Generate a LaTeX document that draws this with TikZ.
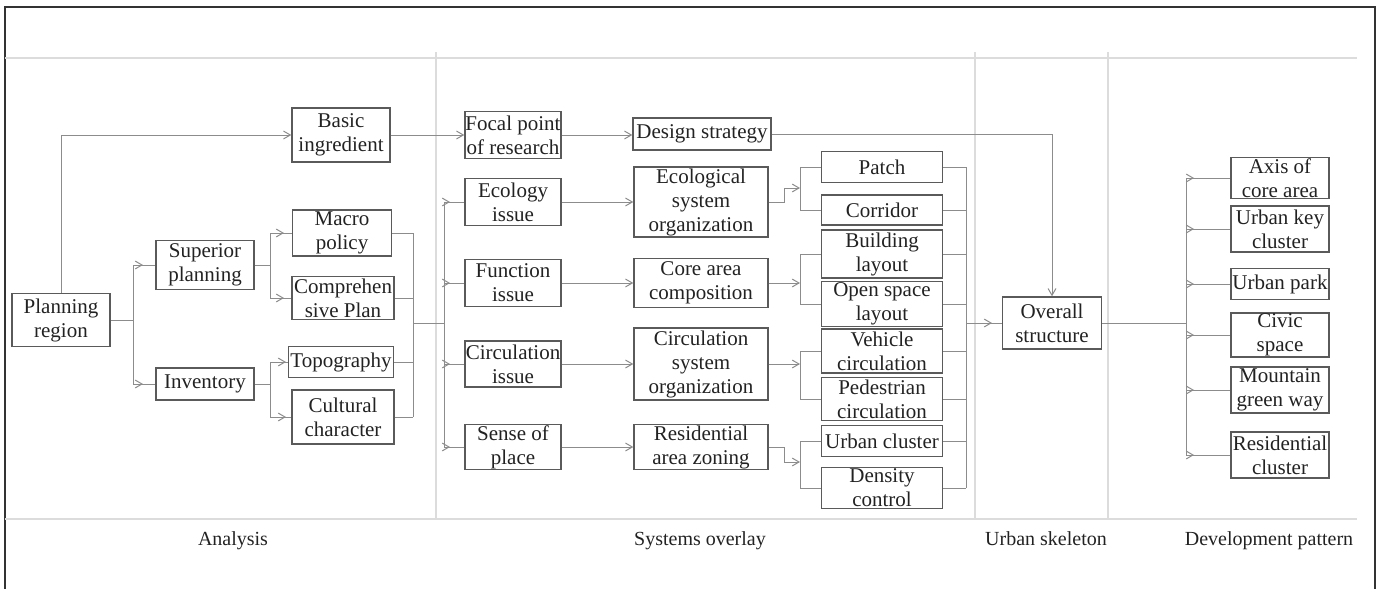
\documentclass[tikz,border=0pt]{standalone}
\usepackage{fontspec}
\setmainfont{Liberation Serif}
\usepackage{tikz}
\usetikzlibrary{arrows,decorations.markings}
\definecolor{boxgray}{HTML}{5A5A5A}
\definecolor{linegray}{HTML}{8C8C8C}
\definecolor{sepgray}{HTML}{DCDCDC}
\definecolor{textgray}{HTML}{222222}

\begin{document}
\begin{tikzpicture}[x=0.5pt,y=-0.5pt]
\tikzset{box/.style = {shape=rectangle,draw=boxgray,line width=0.7pt,align=center,inner sep=0pt,text=textgray,font=\fontsize{10.5}{12}\selectfont}}
\tikzset{sz/.style 2 args = {minimum width=#1*0.5pt,minimum height=#2*0.5pt}}
\tikzset{lab/.style = {anchor=base,text=textgray,font=\fontsize{10}{12}\selectfont}}
\tikzset{line/.style = {draw=linegray,color=linegray,line width=0.5pt}}
\tikzset{edge/.style = {line,->,> = angle 60}}
\tikzset{branch/.style = {line,> = angle 60,postaction={decorate},decoration={markings,mark=at position #1 with {\arrow{>}}}}}
\tikzset{sep/.style = {draw=sepgray,line width=1pt}}
\useasboundingbox (0,0) rectangle (1377,589);
% frame
\draw[black!80,line width=0.6pt] (5,589) -- (5,7) -- (1375,7) -- (1375,589);
\draw[sep] (5,58) -- (1357,58);
\draw[sep] (5,519) -- (1357,519);
\foreach \x in {436,975,1108} \draw[sep] (\x,52) -- (\x,519);
% analysis
\node[box,sz={98}{53}] (pr) at (61,320) {Planning\\region};
\node[box,sz={98}{49}] (sp) at (205,265) {Superior\\planning};
\node[box,sz={98}{32}] (inv) at (205,384) {Inventory};
\node[box,sz={98}{54}] (bi) at (341,135) {Basic\\ingredient};
\node[box,sz={99}{46}] (mp) at (342,233) {Macro\\policy};
\node[box,sz={102}{43}] (cp) at (343,298) {Comprehen\\sive Plan};
\node[box,sz={105}{31}] (tp) at (341,362) {Topography};
\node[box,sz={102}{54}] (cc) at (343,417) {Cultural\\character};
% systems overlay
\node[box,sz={96}{47}] (fp) at (513,135) {Focal point\\of research};
\node[box,sz={96}{47}] (ei) at (513,202) {Ecology\\issue};
\node[box,sz={96}{47}] (fi) at (513,283) {Function\\issue};
\node[box,sz={96}{46}] (ci) at (513,364) {Circulation\\issue};
\node[box,sz={96}{45}] (sop) at (513,447) {Sense of\\place};
\node[box,sz={138}{32}] (ds) at (702,134) {Design strategy};
\node[box,sz={134}{70}] (eso) at (701,202) {Ecological\\system\\organization};
\node[box,sz={134}{49}] (cac) at (701,283) {Core area\\composition};
\node[box,sz={134}{72}] (cso) at (701,364) {Circulation\\system\\organization};
\node[box,sz={134}{45}] (raz) at (701,447) {Residential\\area zoning};
\node[box,sz={121}{31}] (patch) at (882,167) {Patch};
\node[box,sz={121}{30}] (corr) at (882,210) {Corridor};
\node[box,sz={121}{48}] (bl) at (882,254) {Building\\layout};
\node[box,sz={121}{45}] (osl) at (882,304) {Open space\\layout};
\node[box,sz={121}{44}] (vc) at (882,351) {Vehicle\\circulation};
\node[box,sz={121}{43}] (pc) at (882,399) {Pedestrian\\circulation};
\node[box,sz={121}{31}] (uc) at (882,441) {Urban cluster};
\node[box,sz={121}{41}] (dc) at (882,488) {Density\\control};
% urban skeleton
\node[box,sz={99}{52}] (os) at (1052,323) {Overall\\structure};
% development pattern
\node[box,sz={98}{41}] (ax) at (1280,178) {Axis of\\core area};
\node[box,sz={98}{46}] (ukc) at (1280,229) {Urban key\\cluster};
\node[box,sz={98}{31}] (up) at (1280,284) {Urban park};
\node[box,sz={98}{44}] (cs) at (1280,335) {Civic\\space};
\node[box,sz={98}{46}] (mgw) at (1280,390) {Mountain\\green way};
\node[box,sz={98}{46}] (rc) at (1280,455) {Residential\\cluster};
% stage labels
\node[lab] (la) at (233,545) {Analysis};
\node[lab] (ls) at (700,545) {Systems overlay};
\node[lab] (lu) at (1046,545) {Urban skeleton};
\node[lab] (ld) at (1269,545) {Development pattern};
%edges
\draw[edge] (pr.north) |- (bi.west);
\coordinate (b1) at (133,320);
\draw[line] (pr.east) -- (b1);
\draw[line] (b1 |- sp) -- (b1 |- inv);
\draw[branch=5pt] (b1 |- sp) -- (sp.west);
\draw[branch=5pt] (b1 |- inv) -- (inv.west);
\coordinate (b2) at (270,265);
\draw[line] (sp.east) -- (b2);
\draw[line] (b2 |- mp) -- (b2 |- cp);
\draw[branch=7pt] (b2 |- mp) -- (mp.west);
\draw[branch=7pt] (b2 |- cp) -- (cp.west);
\coordinate (b3) at (270,384);
\draw[line] (inv.east) -- (b3);
\draw[line] (b3 |- tp) -- (b3 |- cc);
\draw[branch=8pt] (b3 |- tp) -- (tp.west);
\draw[branch=8pt] (b3 |- cc) -- (cc.west);
\coordinate (b4) at (413,233);
\foreach \n in {mp,cp,tp,cc} \draw[line] (\n.east) -- (b4 |- \n);
\draw[line] (b4 |- mp) -- (b4 |- cc);
\coordinate (b5) at (444,323);
\draw[line] (b4 |- b5) -- (b5);
\draw[line] (b5 |- ei) -- (b5 |- sop);
\foreach \n in {ei,fi,ci,sop} \draw[branch=3pt] (b5 |- \n) -- (\n.west);
\draw[edge] (bi.east) -- (fp.west);
\draw[edge] (fp.east) -- (fp.east -| ds.west);
\foreach \a/\b in {ei/eso,fi/cac,ci/cso,sop/raz} \draw[edge] (\a.east) -- (\b.west);
\coordinate (b6) at (800,188);
\draw[edge] (eso.east) -- ++(16,0) |- (b6);
\draw[line] (b6 |- patch) -- (b6 |- corr);
\coordinate (b7) at (800,283);
\draw[edge] (cac.east) -- (b7);
\draw[line] (b7 |- bl) -- (b7 |- osl);
\coordinate (b8) at (800,364);
\draw[edge] (cso.east) -- (b8);
\draw[line] (b8 |- vc) -- (b8 |- pc);
\coordinate (b9) at (800,462);
\draw[edge] (raz.east) -- ++(16,0) |- (b9);
\draw[line] (b9 |- uc) -- (b9 |- dc);
\foreach \n in {patch,corr,bl,osl,vc,pc,uc,dc} \draw[line] (b6 |- \n) -- (\n.west);
\coordinate (b10) at (966,323);
\foreach \n in {patch,corr,bl,osl,vc,pc,uc,dc} \draw[line] (\n.east) -- (b10 |- \n);
\draw[line] (b10 |- patch) -- (b10 |- dc);
\draw[branch=13pt] (b10) -- (os.west);
\draw[edge] (ds.east) -| (os.north);
\coordinate (b11) at (1186,323);
\draw[line] (os.east) -- (b11);
\draw[line] (b11 |- ax) -- (b11 |- rc);
\foreach \n in {ax,ukc,up,cs,mgw,rc} \draw[branch=4pt] (b11 |- \n) -- (\n.west);
\end{tikzpicture}
\end{document}
